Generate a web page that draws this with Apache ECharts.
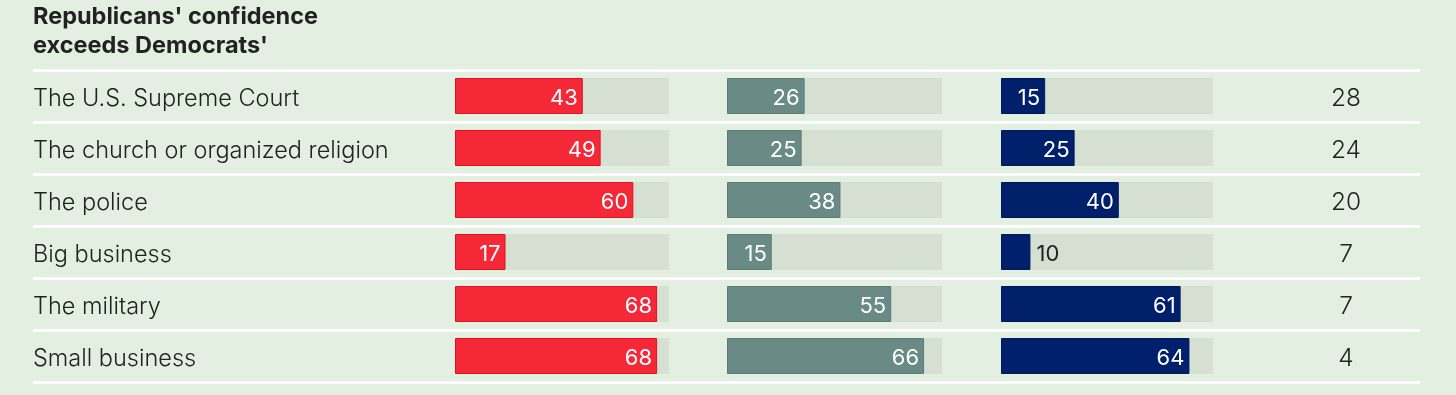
<!DOCTYPE html>
<html>
<head>
<meta charset="utf-8">
<script src="https://cdn.jsdelivr.net/npm/echarts@6/dist/echarts.min.js"></script>
<style>
  html, body { margin: 0; padding: 0; background: #e3f0e1; }
  #chart { width: 1456px; height: 395px; }
</style>
</head>
<body>
<div id="chart"></div>
<script>
const titleText = "Republicans' confidence\nexceeds Democrats'";
const categories = [
  "The U.S. Supreme Court",
  "The church or organized religion",
  "The police",
  "Big business",
  "The military",
  "Small business"
];
const republicans = [43, 49, 60, 17, 68, 68];
const independents = [26, 25, 38, 15, 55, 66];
const democrats = [15, 25, 40, 10, 61, 64];
const gapLabels = ["28", "24", "20", "7", "7", "4"];
const trackMax = 72;

const FONT = "Inter, 'Noto Sans', sans-serif";
const TEXT = "#222222";
const TRACK = "#d5e0d3";
const colors = ["#f52837", "#6a8a86", "#00206b"];
const borders = ["#e5101f", "#5d7c78", "#001a5c"];

const chart = echarts.init(document.getElementById("chart"), null, { renderer: "canvas" });

const grids = [
  { left: 33, right: 36, top: 70, height: 312 },
  { left: 455, width: 214, top: 70, height: 312 },
  { left: 727, width: 215, top: 70, height: 312 },
  { left: 1001, width: 212, top: 70, height: 312 }
];

const xAxes = grids.map((g, i) => ({
  gridIndex: i, type: "value", min: 0, max: trackMax, show: false
}));

const yAxes = [
  {
    gridIndex: 0, type: "category", data: categories, inverse: true,
    axisLine: { show: false }, axisTick: { show: false },
    splitLine: { show: true, lineStyle: { color: "#ffffff", width: 3 } },
    axisLabel: {
      align: "left", margin: 0, color: TEXT,
      formatter: (v) => "{t|" + v + "}",
      rich: { t: { fontFamily: FONT, fontSize: 23.5, fontWeight: 300, color: TEXT, padding: [5, 0, 0, 0] } }
    }
  },
  {
    gridIndex: 0, type: "category", data: categories, inverse: true, position: "right",
    axisLine: { show: false }, axisTick: { show: false }, splitLine: { show: false },
    axisLabel: {
      align: "center", margin: -74, color: TEXT,
      formatter: (v, i) => "{t|" + gapLabels[i] + "}",
      rich: { t: { fontFamily: FONT, fontSize: 24.5, fontWeight: 300, color: TEXT, padding: [5, 0, 0, 0] } }
    }
  }
];
for (let i = 1; i <= 3; i++) {
  yAxes.push({ gridIndex: i, type: "category", data: categories, inverse: true, show: false });
}

const groups = [republicans, independents, democrats];
const series = [];
groups.forEach((vals, k) => {
  const gi = k + 1;
  const yi = k + 2;
  series.push({
    type: "bar", xAxisIndex: gi, yAxisIndex: yi, silent: true,
    barWidth: 36, barGap: "-100%", z: 1,
    itemStyle: { color: TRACK },
    data: categories.map(() => trackMax)
  });
  series.push({
    type: "bar", xAxisIndex: gi, yAxisIndex: yi, silent: true,
    barWidth: 36, barGap: "-100%", z: 2,
    itemStyle: { color: colors[k], borderColor: borders[k], borderWidth: 1 },
    label: {
      show: true, position: "insideRight", distance: 5, offset: [0, 2],
      color: "#ffffff", fontFamily: FONT, fontSize: 22
    },
    data: vals.map(v => v < 12
      ? { value: v, label: { position: "right", distance: 6, color: TEXT } }
      : v)
  });
});

chart.setOption({
  backgroundColor: "#e3f0e1",
  animation: false,
  title: {
    text: titleText, left: 33, top: 2, padding: 0,
    textStyle: { fontFamily: FONT, fontSize: 23.5, fontWeight: "bold", color: TEXT, lineHeight: 29 }
  },
  grid: grids,
  xAxis: xAxes,
  yAxis: yAxes,
  series: series
});
</script>
</body>
</html>
